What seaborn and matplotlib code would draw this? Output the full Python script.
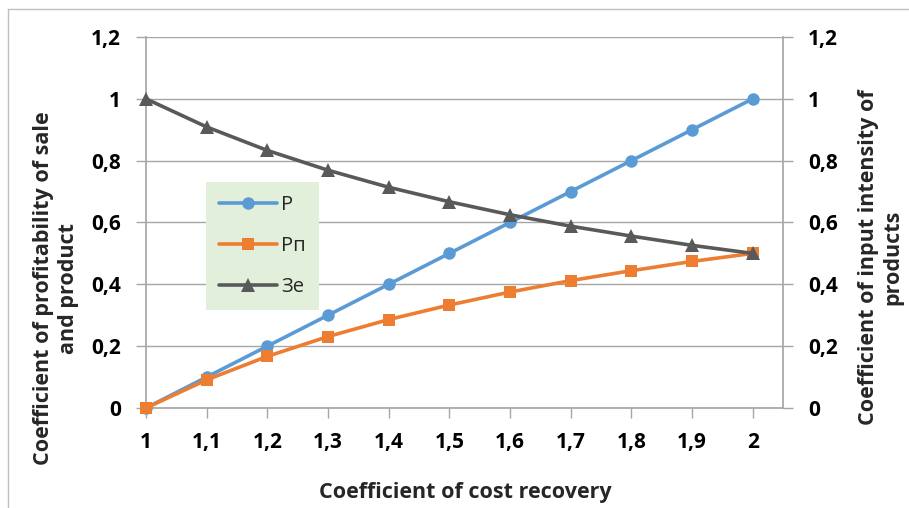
import matplotlib
matplotlib.use("Agg")
import matplotlib.pyplot as plt
import seaborn as sns
import pandas as pd
from matplotlib.lines import Line2D
from matplotlib.ticker import FuncFormatter, FixedLocator

# Cost-recovery coefficient and the three derived coefficients
k = [1.0, 1.1, 1.2, 1.3, 1.4, 1.5, 1.6, 1.7, 1.8, 1.9, 2.0]
P = [0.0, 0.1, 0.2, 0.3, 0.4, 0.5, 0.6, 0.7, 0.8, 0.9, 1.0]
Pp = [0.0, 0.091, 0.167, 0.231, 0.286, 0.333, 0.375, 0.412, 0.444, 0.474, 0.5]
Ze = [1.0, 0.909, 0.833, 0.769, 0.714, 0.667, 0.625, 0.588, 0.556, 0.526, 0.5]

x_ticks = [1.0, 1.1, 1.2, 1.3, 1.4, 1.5, 1.6, 1.7, 1.8, 1.9, 2.0]
y_ticks = [0.0, 0.2, 0.4, 0.6, 0.8, 1.0, 1.2]

series_names = ["P", "Pп", "Зе"]
colors = ["#5b9bd5", "#ed7d31", "#595959"]
markers = ["o", "s", "^"]
msizes = [9, 8.5, 10]

sns.set_theme(style="white")
plt.rcParams["font.family"] = ["Open Sans", "DejaVu Sans"]

fig = plt.figure(figsize=(9.09, 5.08), dpi=100)
ax = fig.add_axes([0.1606, 0.1969, 0.7008, 0.7303])
ax2 = ax.twinx()

grid_c = "#a6a6a6"
fs_tick = 15
fs_title = 15.5

df = pd.DataFrame({"k": k * 3,
                   "value": P + Pp + Ze,
                   "series": [s for s in series_names for _ in k]})

handles = []
for name, col, mk, ms in zip(series_names, colors, markers, msizes):
    target = ax2 if name == "Зе" else ax
    sub = df[df["series"] == name]
    sns.lineplot(data=sub, x="k", y="value", ax=target, color=col, linewidth=2.6,
                 marker=mk, markersize=ms, markeredgewidth=0, zorder=3,
                 legend=False, clip_on=False)
    handles.append(Line2D([0], [0], color=col, linewidth=2.6, marker=mk,
                          markersize=ms, markeredgewidth=0))

comma = FuncFormatter(lambda v, _: ("%g" % round(v, 2)).replace(".", ","))

for a in (ax, ax2):
    a.set_ylim(0, 1.2)
    a.yaxis.set_major_locator(FixedLocator(y_ticks))
    a.yaxis.set_major_formatter(comma)
    a.set_xlim(1.0, 2.05)
    a.set_xlabel("")
    a.set_ylabel("")
    for s in a.spines.values():
        s.set_visible(False)

ax.set_facecolor("none")
ax.yaxis.grid(True, color=grid_c, linewidth=1.0)
ax.set_axisbelow(True)
ax.spines["left"].set_visible(True)
ax.spines["left"].set_color(grid_c)
ax.spines["bottom"].set_visible(True)
ax.spines["bottom"].set_color(grid_c)
ax2.spines["right"].set_visible(True)
ax2.spines["right"].set_color(grid_c)

ax.xaxis.set_major_locator(FixedLocator(x_ticks))
ax.xaxis.set_major_formatter(comma)
ax.tick_params(axis="x", bottom=True, direction="out", length=7, width=1,
               color=grid_c, pad=10, labelsize=fs_tick)
ax.tick_params(axis="y", left=True, direction="out", length=7, width=1,
               color=grid_c, pad=11, labelsize=fs_tick)
ax2.tick_params(axis="y", right=True, direction="out", length=7, width=1,
                color=grid_c, pad=11, labelsize=fs_tick)
for lab in ax.get_xticklabels() + ax.get_yticklabels() + ax2.get_yticklabels():
    lab.set_fontweight("bold")
    lab.set_color("#000000")

leg = ax.legend(handles, series_names, loc="upper left",
                bbox_to_anchor=(0.094, 0.61), frameon=True, fancybox=False,
                facecolor="#e2efda", edgecolor="none", framealpha=1,
                fontsize=14.5, handlelength=2.9, labelspacing=1.05,
                borderpad=0.65, handletextpad=0.2, borderaxespad=0)
leg.set_zorder(5)

# axis titles
fig.text(0.0616, 0.433, "Coefficient of profitability of sale\nand product",
         rotation=90, ha="center", va="center", fontsize=fs_title,
         fontweight="bold", linespacing=1.3)
fig.text(0.969, 0.494, "Coefficient of input intensity of\nproducts",
         rotation=90, ha="center", va="center", fontsize=fs_title,
         fontweight="bold", linespacing=1.2)
fig.text(0.512, 0.031, "Coefficient of cost recovery", ha="center",
         va="center", fontsize=fs_title, fontweight="bold")

# chart-area frame
frame_kw = dict(color="#bfbfbf", linewidth=1.0, transform=fig.transFigure)
fig.add_artist(Line2D([8 / 909, 1.0], [1 - 9 / 508, 1 - 9 / 508], **frame_kw))
fig.add_artist(Line2D([8 / 909, 8 / 909], [0.0, 1 - 9 / 508], **frame_kw))

fig.savefig("out.png", dpi=100, facecolor="white")
